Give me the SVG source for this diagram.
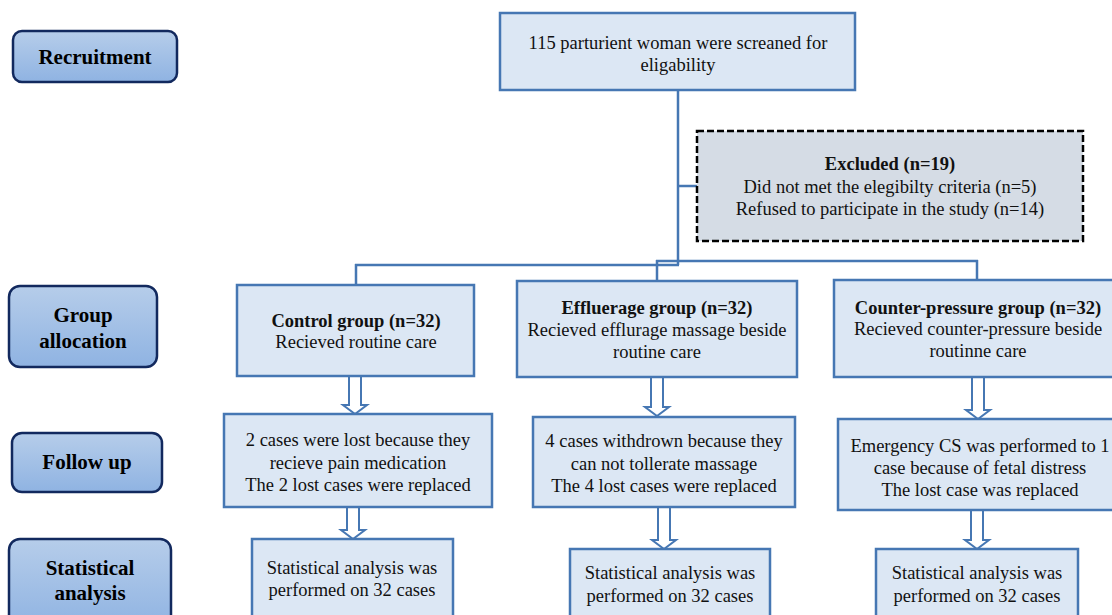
<svg xmlns="http://www.w3.org/2000/svg" width="1112" height="615" viewBox="0 0 1112 615">
<defs>
<linearGradient id="lbl" x1="0" y1="0" x2="0" y2="1">
<stop offset="0" stop-color="#b6cdea"/>
<stop offset="1" stop-color="#8fb3e2"/>
</linearGradient>
<style>
.stage rect{fill:url(#lbl);stroke:#12295e;stroke-width:2.5}
.stage text{font-family:"Liberation Serif","Times New Roman",serif;font-weight:bold;font-size:21px;fill:#000;text-anchor:middle}
.box rect{fill:#dce7f4;stroke:#4677b3;stroke-width:2.5}
.box text{font-family:"Liberation Serif","Times New Roman",serif;font-size:18.5px;fill:#111;text-anchor:middle}
.box text .b{font-weight:bold}
.excl rect{fill:#d5dce5;stroke:#000;stroke-width:2.5;stroke-dasharray:7 3}
.conn line{stroke:#4677b3;stroke-width:2.5;fill:none}
.conn polygon{fill:#fff;stroke:#4677b3;stroke-width:2}
</style>
</defs>
<rect width="1112" height="615" fill="#fff"/>

<g id="stage-recruitment" class="stage"><rect x="13" y="31" width="164" height="51" rx="9"/><text x="95" y="64">Recruitment</text></g>
<g id="stage-allocation" class="stage"><rect x="9" y="286" width="148" height="81" rx="11"/><text x="83" y="322">Group</text><text x="83" y="348">allocation</text></g>
<g id="stage-followup" class="stage"><rect x="12" y="433" width="150" height="59" rx="10"/><text x="87" y="469">Follow up</text></g>
<g id="stage-stats" class="stage"><rect x="9" y="539" width="162" height="90" rx="11"/><text x="90" y="575">Statistical</text><text x="90" y="600">analysis</text></g>

<g class="conn" id="connectors">
<line x1="678" y1="90" x2="678" y2="265"/>
<line x1="678" y1="186" x2="697" y2="186"/>
<line x1="355" y1="265" x2="679" y2="265"/>
<line x1="356" y1="264" x2="356" y2="285"/>
<line x1="656" y1="261" x2="978" y2="261"/>
<line x1="657" y1="260" x2="657" y2="281"/>
<line x1="977" y1="260" x2="977" y2="280"/>
<polygon points="349,376 361,376 361,405 367,405 355,414 343,405 349,405"/>
<polygon points="651,377 663,377 663,407 669,407 657,416 645,407 651,407"/>
<polygon points="972,377 984,377 984,410 990,410 978,419 966,410 972,410"/>
<polygon points="347,507 359,507 359,530 365,530 353,539 341,530 347,530"/>
<polygon points="658,507 670,507 670,540 676,540 664,549 652,540 658,540"/>
<polygon points="971,510 983,510 983,540 989,540 977,549 965,540 971,540"/>
</g>

<g id="screened" class="box"><rect x="500" y="13" width="355" height="77"/><text x="678" y="49">115 parturient woman were screaned for</text><text x="678" y="71">eligability</text></g>

<g id="excluded" class="box excl"><rect x="697" y="131" width="386" height="110"/><text x="890" y="170"><tspan class="b">Excluded (n=19)</tspan></text><text x="890" y="193">Did not met the elegibilty criteria (n=5)</text><text x="890" y="215">Refused to participate in the study (n=14)</text></g>

<g id="control-group" class="box"><rect x="237" y="285" width="237" height="91"/><text x="356" y="327"><tspan class="b">Control group (n=32)</tspan></text><text x="356" y="348">Recieved routine care</text></g>
<g id="effleurage-group" class="box"><rect x="517" y="281" width="280" height="96"/><text x="657" y="314"><tspan class="b">Effluerage group (n=32)</tspan></text><text x="657" y="336">Recieved efflurage massage beside</text><text x="657" y="358">routine care</text></g>
<g id="counter-group" class="box"><rect x="834" y="280" width="290" height="97"/><text x="978" y="314"><tspan class="b">Counter-pressure group (n=32)</tspan></text><text x="978" y="335">Recieved counter-pressure beside</text><text x="978" y="357">routinne care</text></g>

<g id="control-followup" class="box"><rect x="224" y="414" width="268" height="93"/><text x="358" y="446">2 cases were lost because they</text><text x="358" y="469">recieve pain medication</text><text x="358" y="491">The 2 lost cases were replaced</text></g>
<g id="effleurage-followup" class="box"><rect x="533" y="417" width="262" height="90"/><text x="664" y="447">4 cases withdrown because they</text><text x="664" y="470">can not tollerate massage</text><text x="664" y="492">The 4 lost cases were replaced</text></g>
<g id="counter-followup" class="box"><rect x="838" y="419" width="290" height="91"/><text x="980" y="452">Emergency CS was performed to 1</text><text x="980" y="474">case because of fetal distress</text><text x="980" y="496">The lost case was replaced</text></g>

<g id="control-stats" class="box"><rect x="252" y="539" width="201" height="90"/><text x="352" y="574">Statistical analysis was</text><text x="352" y="596">performed on 32 cases</text></g>
<g id="effleurage-stats" class="box"><rect x="570" y="549" width="200" height="80"/><text x="670" y="579">Statistical analysis was</text><text x="670" y="602">performed on 32 cases</text></g>
<g id="counter-stats" class="box"><rect x="876" y="549" width="202" height="80"/><text x="977" y="579">Statistical analysis was</text><text x="977" y="602">performed on 32 cases</text></g>
</svg>
